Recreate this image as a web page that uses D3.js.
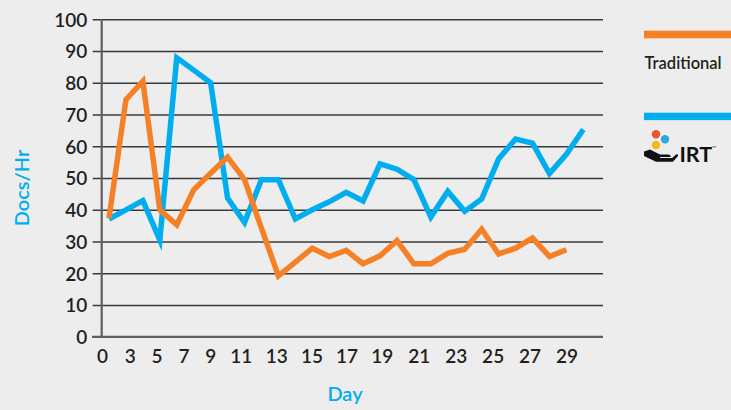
<!DOCTYPE html>
<html>
<head>
<meta charset="utf-8">
<script src="https://cdn.jsdelivr.net/npm/d3@7"></script>
<style>
  html, body { margin: 0; padding: 0; background: #ededed; }
  svg { display: block; }
  text { font-family: Lato, "Open Sans", sans-serif; }
</style>
</head>
<body>
<svg id="chart" width="731" height="410"></svg>
<script>
// ---- data ----
const seriesNames = ["Traditional", "IRT"];
const traditional = [37.4, 74.7, 80.5, 40, 35.3, 46.3, 51.5, 56.6, 49.5, 34.2,
  19.2, 23.5, 27.9, 25.3, 27.2, 23, 25.5, 30.3, 23, 23,
  26.3, 27.6, 33.9, 26.1, 27.9, 31.1, 25.3, 27.4];
const irt = [37.1, 40, 42.9, 30.5, 87.9, 84, 80, 43.7, 36, 49.5,
  49.5, 37.1, 40, 42.5, 45.5, 42.8, 54.5, 52.8, 49.5, 37.7,
  45.8, 39.5, 43.4, 56, 62.3, 61, 51.4, 57.5, 65.3];
const dayTicks = [0, 3, 5, 7, 9, 11, 13, 15, 17, 19, 21, 23, 25, 27, 29];
const yTicks = [0, 10, 20, 30, 40, 50, 60, 70, 80, 90, 100];

// ---- layout ----
const svg = d3.select("#chart");
const W = 731, H = 410;
const plotLeft = 101.7, plotRight = 603, plotTop = 19.3, plotBottom = 336.8;
const ORANGE = "#f58025", BLUE = "#00aeef", TEXT = "#231f20";

svg.append("rect").attr("width", W).attr("height", H).attr("fill", "#ededed");

const y = d3.scaleLinear().domain([0, 100]).range([plotBottom, plotTop]);
// sample index scale for the lines
const x = d3.scaleLinear().domain([0, 28]).range([109, 583.3]);
// day-label scale (labels are unevenly spaced in the source)
const dayScale = d3.scaleLinear()
  .domain([0, 3, 9, 11, 13, 19, 29])
  .range([102, 129.7, 210.3, 240.7, 276.3, 381.7, 566.6]);

// gridlines + y axis ticks
const yAxis = d3.axisLeft(y).tickValues(yTicks)
  .tickSize(-(plotRight - plotLeft)).tickSizeOuter(0).tickPadding(14);
const gy = svg.append("g").attr("transform", `translate(${plotLeft},0)`).call(yAxis);
gy.select(".domain").remove();
gy.selectAll(".tick line")
  .attr("x1", -9).attr("x2", plotRight - plotLeft)
  .attr("stroke", "#3a3a3a").attr("stroke-width", 1.4);
gy.selectAll(".tick text")
  .attr("fill", TEXT).attr("font-size", 19).attr("font-weight", 600)
  .attr("x", -14.5).attr("dy", "0.36em");

// y axis line
svg.append("line")
  .attr("x1", plotLeft).attr("x2", plotLeft)
  .attr("y1", plotTop).attr("y2", plotBottom)
  .attr("stroke", "#5e5e5e").attr("stroke-width", 2.2);

// x axis
const xAxis = d3.axisBottom(dayScale).tickValues(dayTicks).tickSize(0).tickPadding(14);
const gx = svg.append("g").attr("transform", `translate(0,${plotBottom})`).call(xAxis);
gx.select(".domain").remove();
gx.selectAll(".tick text")
  .attr("fill", TEXT).attr("font-size", 19).attr("font-weight", 600)
  .attr("dy", "0.71em").attr("y", 13);
svg.append("line")
  .attr("x1", 92).attr("x2", plotRight)
  .attr("y1", plotBottom).attr("y2", plotBottom)
  .attr("stroke", "#5e5e5e").attr("stroke-width", 2.2);

// lines
const line = d3.line().x((d, i) => x(i)).y(d => y(d));
svg.append("path").datum(irt)
  .attr("d", line).attr("fill", "none")
  .attr("stroke", BLUE).attr("stroke-width", 5.5)
  .attr("stroke-linejoin", "miter").attr("stroke-miterlimit", 6);
svg.append("path").datum(traditional)
  .attr("d", line).attr("fill", "none")
  .attr("stroke", ORANGE).attr("stroke-width", 5.5)
  .attr("stroke-linejoin", "miter").attr("stroke-miterlimit", 6);

// axis titles
svg.append("text")
  .attr("transform", "translate(28.5,188) rotate(-90)")
  .attr("text-anchor", "middle")
  .attr("fill", BLUE).attr("font-size", 20).attr("font-weight", 600)
  .text("Docs/Hr");
svg.append("text")
  .attr("x", 345).attr("y", 400.5)
  .attr("text-anchor", "middle")
  .attr("fill", BLUE).attr("font-size", 20).attr("font-weight", 600)
  .text("Day");

// legend
const leg = svg.append("g");
leg.append("rect").attr("x", 644).attr("y", 30.7).attr("width", 90).attr("height", 7.6).attr("fill", ORANGE);
leg.append("text").attr("x", 644.5).attr("y", 69.3)
  .attr("fill", TEXT).attr("font-size", 16.5).attr("font-weight", 600)
  .text(seriesNames[0]);
leg.append("rect").attr("x", 644).attr("y", 112.7).attr("width", 90).attr("height", 7.4).attr("fill", BLUE);

// IRT logo
const logo = leg.append("g");
logo.append("circle").attr("cx", 656).attr("cy", 134.2).attr("r", 4.2).attr("fill", "#e8552e");
logo.append("circle").attr("cx", 665).attr("cy", 139.2).attr("r", 4.2).attr("fill", "#29a9e0");
logo.append("circle").attr("cx", 656).attr("cy", 145).attr("r", 4.2).attr("fill", "#f5b81c");
logo.append("path")
  .attr("d", "M644,151.5 L650,149.5 L660,154.5 L668,154.5 Q671,154.7 670.5,157 L660,157 L660,158 L672,158 L676,154.5 Q678.5,153.5 678,156 L673,161.8 L656,161.8 L644,156 Z")
  .attr("fill", "#111");
logo.append("text").attr("x", 679.5).attr("y", 162)
  .attr("fill", "#111").attr("font-size", 21.5).attr("font-weight", 700)
  .text(seriesNames[1]);
logo.append("text").attr("x", 711.5).attr("y", 150)
  .attr("fill", "#555").attr("font-size", 6).attr("font-weight", 400)
  .text("™");
</script>
</body>
</html>
